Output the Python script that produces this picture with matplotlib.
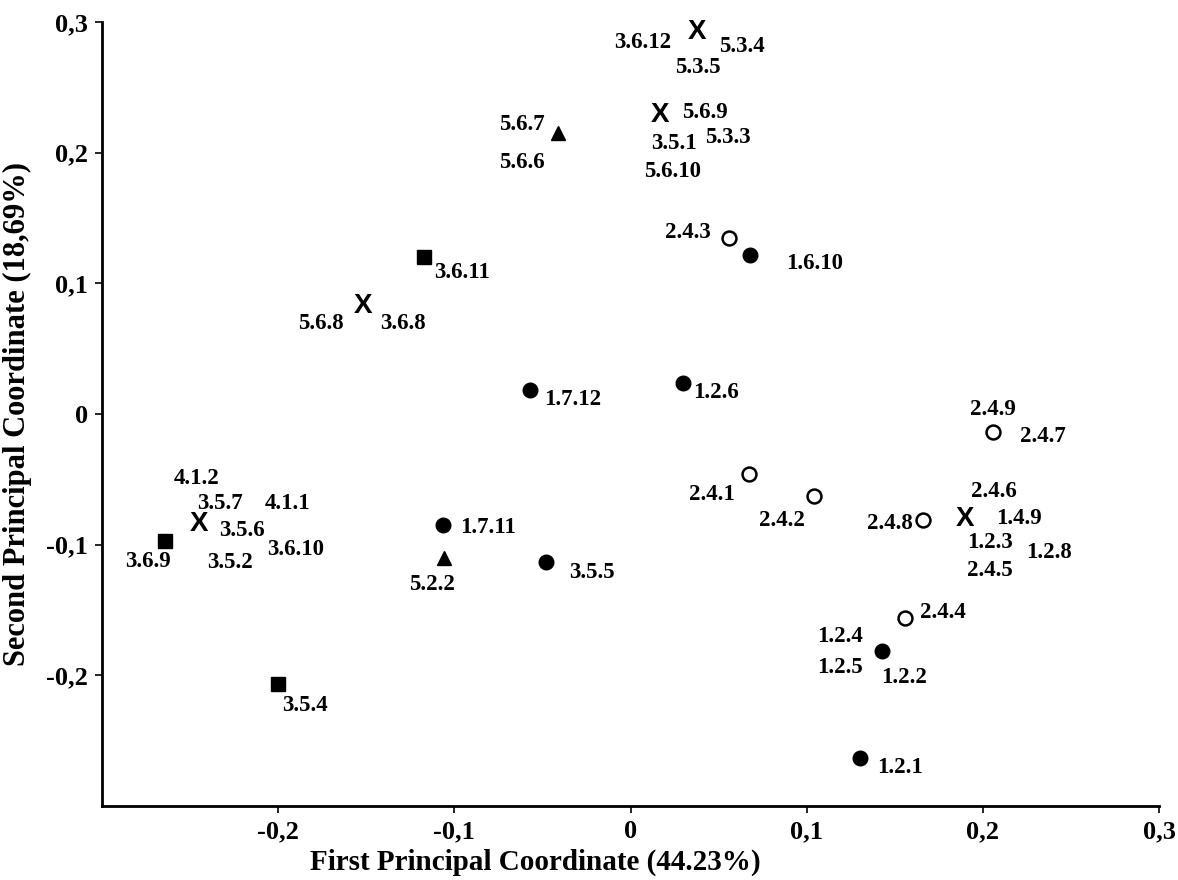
import matplotlib
matplotlib.use("Agg")
import matplotlib.pyplot as plt

# ---- data ----
point_x = [0.038, 0.017, -0.041, 0.056, 0.068, -0.117, -0.152, -0.057, 0.030,
           -0.1065, -0.106, -0.048, -0.264, -0.245, -0.200, 0.067, 0.104,
           0.206, 0.166, 0.190, 0.156, 0.143, 0.130]
point_y = [0.292, 0.229, 0.215, 0.135, 0.122, 0.120, 0.083, 0.018, 0.024,
           -0.085, -0.110, -0.113, -0.097, -0.084, -0.207, -0.046, -0.063,
           -0.014, -0.081, -0.080, -0.156, -0.181, -0.263]
point_kind = ["x", "x", "tri", "open", "dot", "sq", "x", "dot", "dot",
              "dot", "tri", "dot", "sq", "x", "sq", "open", "open",
              "open", "open", "x", "open", "dot", "dot"]
point_labels = [
    ["3.6.12", "5.3.4", "5.3.5"],
    ["5.6.9", "3.5.1", "5.3.3", "5.6.10"],
    ["5.6.7", "5.6.6"],
    ["2.4.3"],
    ["1.6.10"],
    ["3.6.11"],
    ["5.6.8", "3.6.8"],
    ["1.7.12"],
    ["1.2.6"],
    ["1.7.11"],
    ["5.2.2"],
    ["3.5.5"],
    ["3.6.9"],
    ["4.1.2", "3.5.7", "4.1.1", "3.5.6", "3.6.10", "3.5.2"],
    ["3.5.4"],
    ["2.4.1"],
    ["2.4.2"],
    ["2.4.9", "2.4.7"],
    ["2.4.8"],
    ["2.4.6", "1.4.9", "1.2.3", "1.2.8", "2.4.5"],
    ["2.4.4"],
    ["1.2.4", "1.2.5", "1.2.2"],
    ["1.2.1"],
]
x_ticks = [-0.2, -0.1, 0, 0.1, 0.2, 0.3]
x_ticklabels = ["-0,2", "-0,1", "0", "0,1", "0,2", "0,3"]
y_ticks = [-0.2, -0.1, 0, 0.1, 0.2, 0.3]
y_ticklabels = ["-0,2", "-0,1", "0", "0,1", "0,2", "0,3"]
x_title = "First Principal Coordinate (44.23%)"
y_title = "Second Principal Coordinate (18,69%)"

# ---- layout: label offsets in pixels (dx, dy up) ----
label_offsets = [
    [(-55, -10), (44, -14), (0, -35)],
    [(44, 2), (13, -29), (67, -23), (12, -57)],
    [(-36, 9), (-36, -29)],
    [(-41, 5)],
    [(64, -9)],
    [(38, -15)],
    [(-42, -18), (40, -18)],
    [(43, -9)],
    [(33, -10)],
    [(45, -2)],
    [(-12, -27)],
    [(46, -11)],
    [(-17, -21)],
    [(-2, 45), (21, 20), (89, 20), (43, -7), (97, -26), (31, -39)],
    [(27, -21)],
    [(-37, -20)],
    [(-32, -24)],
    [(0, 23), (49, -4)],
    [(-33, -4)],
    [(29, 27), (54, 0), (25, -24), (84, -34), (25, -52)],
    [(38, 5)],
    [(-42, 14), (-42, -17), (22, -27)],
    [(40, -10)],
]

serif = ["Liberation Serif", "DejaVu Serif"]
plt.rcParams["font.family"] = serif
plt.rcParams["font.weight"] = "bold"

fig = plt.figure(figsize=(11.78, 8.80), dpi=100)
ax = fig.add_axes([102 / 1178, 1 - 806 / 880, (1159 - 102) / 1178, (806 - 22) / 880])

for px, py, kind in zip(point_x, point_y, point_kind):
    if kind == "dot":
        ax.plot(px, py, "o", ms=10.5, mfc="black", mec="black", zorder=3)
    elif kind == "open":
        ax.plot(px, py, "o", ms=10, mfc="white", mec="black", mew=1.8, zorder=3)
    elif kind == "sq":
        ax.plot(px, py, "s", ms=10.5, mfc="black", mec="black", zorder=3)
    elif kind == "tri":
        ax.plot(px, py, "^", ms=10, mfc="black", mec="black", zorder=3)
    elif kind == "x":
        ax.text(px, py, "X", ha="center", va="center", fontsize=20,
                family="Liberation Sans", fontweight="bold", zorder=3)

for px, py, labs, offs in zip(point_x, point_y, point_labels, label_offsets):
    for lab, (dx, dy) in zip(labs, offs):
        ax.annotate(lab, (px, py), xytext=(dx, dy), textcoords="offset pixels",
                    ha="center", va="center", fontsize=16.5, fontweight="bold")

ax.set_xlim(-0.3, 0.3)
ax.set_ylim(-0.3, 0.3)
ax.set_xticks(x_ticks)
ax.set_xticklabels(x_ticklabels)
ax.set_yticks(y_ticks)
ax.set_yticklabels(y_ticklabels)
ax.tick_params(axis="both", labelsize=19, length=5, width=1.2, direction="out", pad=5)
for lbl in ax.get_xticklabels() + ax.get_yticklabels():
    lbl.set_fontweight("bold")
ax.spines["top"].set_visible(False)
ax.spines["right"].set_visible(False)
ax.spines["left"].set_linewidth(2)
ax.spines["bottom"].set_linewidth(2)

ax.set_xlabel(x_title, fontsize=21, fontweight="bold")
ax.set_ylabel(y_title, fontsize=22, fontweight="bold")
ax.xaxis.set_label_coords(0.41, -0.054)
ax.yaxis.set_label_coords(-0.066, 0.5)

fig.savefig("out.png", dpi=100)
